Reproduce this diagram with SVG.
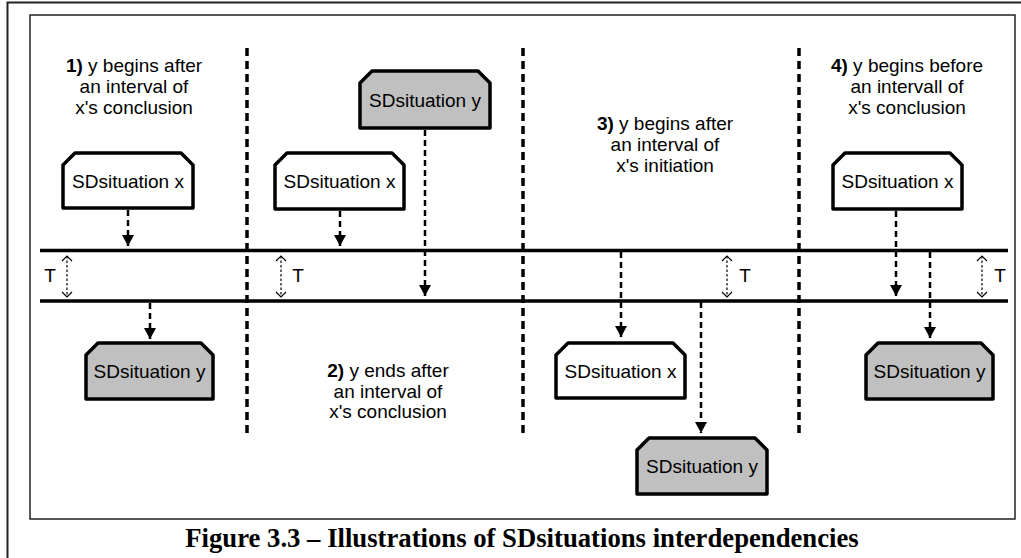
<svg xmlns="http://www.w3.org/2000/svg" width="1021" height="558" viewBox="0 0 1021 558">
<style>
.frame{fill:none;stroke:#222;stroke-width:1.5}
.node{stroke:#000;stroke-width:3.5;stroke-linejoin:round}
.nx{fill:#fff}
.ny{fill:#c0c0c0}
.lbl{font-family:"Liberation Sans",Arial,sans-serif;font-size:19px;fill:#000}
.ntxt{font-family:"Liberation Sans",Arial,sans-serif;font-size:19px;fill:#000;text-anchor:middle}
.sep{stroke:#000;stroke-width:3.5;stroke-dasharray:8 5;fill:none}
.tl{stroke:#000;stroke-width:3.5;fill:none}
.arr{stroke:#000;stroke-width:2.5;stroke-dasharray:6 4;fill:none;marker-end:url(#ah)}
.tarr{stroke:#000;stroke-width:1.2;stroke-dasharray:2.5 2;fill:none;marker-start:url(#ch);marker-end:url(#ch)}
.cap{font-family:"Liberation Serif","Times New Roman",serif;font-size:26.7px;font-weight:bold;fill:#000;text-anchor:middle}
</style>
<defs>
<marker id="ah" markerUnits="userSpaceOnUse" markerWidth="12" markerHeight="12" refX="11" refY="6" orient="auto">
<path d="M0,0 L11,6 L0,12 Z" fill="#000"/>
</marker>
<marker id="ch" markerUnits="userSpaceOnUse" markerWidth="10" markerHeight="12" refX="6" refY="6" orient="auto-start-reverse">
<path d="M1,1 L6,6 L1,11" fill="none" stroke="#000" stroke-width="1.2"/>
</marker>
</defs>
<rect width="1021" height="558" fill="#fff"/>
<g id="outer-frame">
<path d="M7.5,558 L7.5,2.5 L1021,2.5" fill="none" stroke="#222" stroke-width="2"/>
<rect class="frame" x="30" y="15" width="985" height="504"/>
</g>
<g id="lanes">
<line class="sep" x1="247" y1="48" x2="247" y2="434"/>
<line class="sep" x1="523" y1="48" x2="523" y2="434"/>
<line class="sep" x1="799" y1="48" x2="799" y2="434"/>
<line class="tl" x1="40" y1="250.5" x2="1008" y2="250.5"/>
<line class="tl" x1="40" y1="301" x2="1008" y2="301"/>
</g>
<g id="labels">
<text class="lbl" text-anchor="middle"><tspan x="134" y="72"><tspan font-weight="bold">1)</tspan> y begins after</tspan><tspan x="134" y="93">an interval of</tspan><tspan x="134" y="113.5">x's conclusion</tspan></text>
<text class="lbl" text-anchor="middle"><tspan x="388" y="377"><tspan font-weight="bold">2)</tspan> y ends after</tspan><tspan x="388" y="397.5">an interval of</tspan><tspan x="388" y="418">x's conclusion</tspan></text>
<text class="lbl" text-anchor="middle"><tspan x="665" y="130"><tspan font-weight="bold">3)</tspan> y begins after</tspan><tspan x="665" y="151">an interval of</tspan><tspan x="665" y="172">x's initiation</tspan></text>
<text class="lbl" text-anchor="middle"><tspan x="907" y="72"><tspan font-weight="bold">4)</tspan> y begins before</tspan><tspan x="907" y="93">an intervall of</tspan><tspan x="907" y="113.5">x's conclusion</tspan></text>
<text class="lbl" x="50" y="282" text-anchor="middle">T</text>
<text class="lbl" x="298" y="282" text-anchor="middle">T</text>
<text class="lbl" x="745" y="282" text-anchor="middle">T</text>
<text class="lbl" x="1000" y="282" text-anchor="middle">T</text>
</g>
<g id="node-1x"><path class="node nx" d="M63,165 L75,153 L181,153 L193,165 L193,208 L63,208 Z"/><text class="ntxt" x="128" y="187.5">SDsituation x</text></g>
<g id="node-1y"><path class="node ny" d="M86,355 L98,343 L201,343 L213,355 L213,399 L86,399 Z"/><text class="ntxt" x="149.5" y="377.5">SDsituation y</text></g>
<g id="node-2y"><path class="node ny" d="M360,83 L372,71 L478,71 L490,83 L490,128 L360,128 Z"/><text class="ntxt" x="425" y="106.5">SDsituation y</text></g>
<g id="node-2x"><path class="node nx" d="M275,165 L287,153 L392,153 L404,165 L404,209 L275,209 Z"/><text class="ntxt" x="339.5" y="187.5">SDsituation x</text></g>
<g id="node-3x"><path class="node nx" d="M556,355 L568,343 L673,343 L685,355 L685,398 L556,398 Z"/><text class="ntxt" x="620.5" y="377.5">SDsituation x</text></g>
<g id="node-3y"><path class="node ny" d="M637,450 L649,438 L755,438 L767,450 L767,494 L637,494 Z"/><text class="ntxt" x="702" y="472.5">SDsituation y</text></g>
<g id="node-4x"><path class="node nx" d="M833,165 L845,153 L950,153 L962,165 L962,209 L833,209 Z"/><text class="ntxt" x="897.5" y="187.5">SDsituation x</text></g>
<g id="node-4y"><path class="node ny" d="M866,355 L878,343 L981,343 L993,355 L993,399 L866,399 Z"/><text class="ntxt" x="929.5" y="377.5">SDsituation y</text></g>
<g id="connectors">
<line class="arr" x1="128" y1="210" x2="128" y2="246"/>
<line class="arr" x1="150" y1="303" x2="150" y2="339"/>
<line class="arr" x1="340" y1="211" x2="340" y2="246"/>
<line class="arr" x1="425" y1="130" x2="425" y2="296"/>
<line class="arr" x1="621" y1="252" x2="621" y2="337"/>
<line class="arr" x1="701" y1="302" x2="701" y2="433"/>
<line class="arr" x1="896" y1="211" x2="896" y2="296"/>
<line class="arr" x1="930" y1="252" x2="930" y2="338"/>
<line class="tarr" x1="67" y1="256" x2="67" y2="297"/>
<line class="tarr" x1="281" y1="256" x2="281" y2="297"/>
<line class="tarr" x1="727" y1="256" x2="727" y2="297"/>
<line class="tarr" x1="982" y1="256" x2="982" y2="297"/>
</g>
<text class="cap" x="522" y="547">Figure 3.3 – Illustrations of SDsituations interdependencies</text>
</svg>
